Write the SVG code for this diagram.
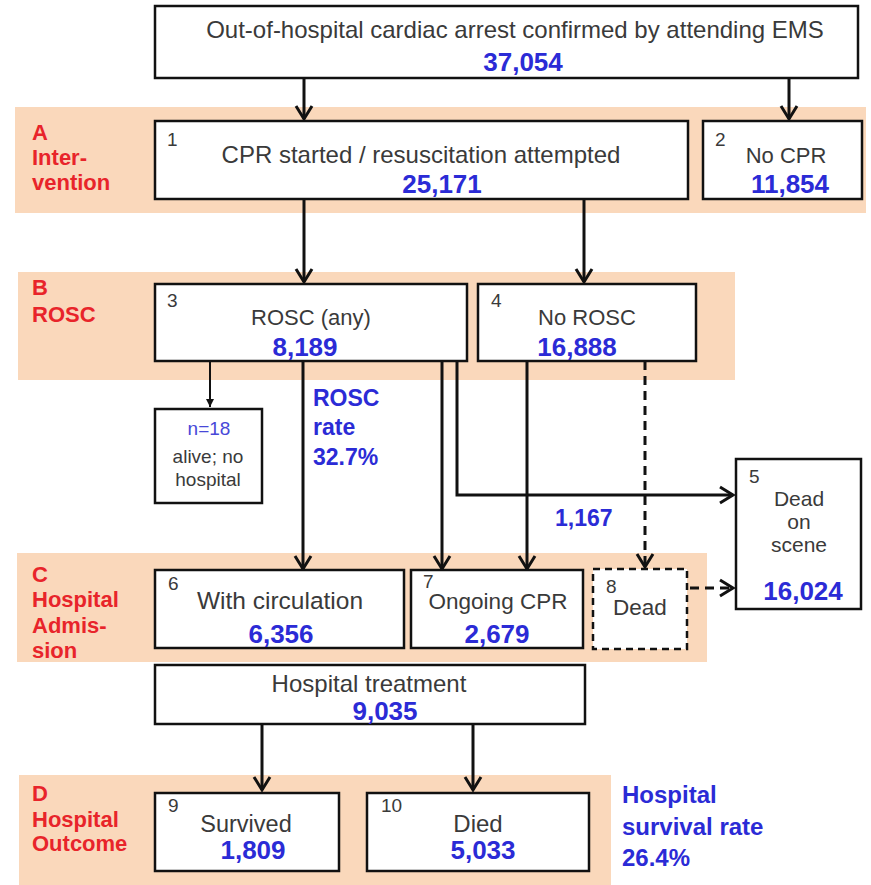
<svg xmlns="http://www.w3.org/2000/svg" width="871" height="885" viewBox="0 0 871 885">
<defs>
<style>
.band{fill:#fad8bb;}
.box{fill:#fff;stroke:#111;stroke-width:2.5;}
.dbox{fill:#fff;stroke:#111;stroke-width:2.5;stroke-dasharray:7 5;}
.t{font-family:"Liberation Sans",Arial,sans-serif;font-size:23px;fill:#3a3a3a;text-anchor:middle;}
.n{font-family:"Liberation Sans",Arial,sans-serif;font-size:19px;fill:#3a3a3a;}
.num{font-family:"Liberation Sans",Arial,sans-serif;font-size:26px;font-weight:bold;fill:#2b2bd6;text-anchor:middle;}
.lab{font-family:"Liberation Sans",Arial,sans-serif;font-size:22px;font-weight:bold;fill:#e8242a;}
.blue{font-family:"Liberation Sans",Arial,sans-serif;font-size:23px;font-weight:bold;fill:#2b2bd6;}
.sm{font-family:"Liberation Sans",Arial,sans-serif;font-size:19px;fill:#3a3a3a;text-anchor:middle;}
.ln{fill:none;stroke:#111;stroke-width:3;}
.dl{fill:none;stroke:#111;stroke-width:3;stroke-dasharray:9 6;}
</style>
<marker id="ah" viewBox="0 0 20 20" markerWidth="20" markerHeight="20" refX="17" refY="10" orient="auto" markerUnits="userSpaceOnUse">
<path d="M4,2 L17,10 L4,18" fill="none" stroke="#111" stroke-width="3"/>
</marker>
<marker id="sm" viewBox="0 0 10 10" markerWidth="10" markerHeight="10" refX="9" refY="5" orient="auto" markerUnits="userSpaceOnUse">
<path d="M1,1 L9,5 L1,9 Z" fill="#111"/>
</marker>
</defs>
<rect width="871" height="885" fill="#fff"/>
<g id="bands">
<rect class="band" x="15" y="107" width="851" height="106"/>
<rect class="band" x="18" y="272" width="717" height="108"/>
<rect class="band" x="17" y="553" width="690" height="109"/>
<rect class="band" x="19" y="775" width="592" height="110"/>
</g>
<g id="band-labels">
<text class="lab" x="32" y="140">A</text>
<text class="lab" x="32" y="165">Inter-</text>
<text class="lab" x="32" y="190">vention</text>
<text class="lab" x="32" y="295">B</text>
<text class="lab" x="32" y="322">ROSC</text>
<text class="lab" x="32" y="582">C</text>
<text class="lab" x="32" y="607">Hospital</text>
<text class="lab" x="32" y="633">Admis-</text>
<text class="lab" x="32" y="658">sion</text>
<text class="lab" x="32" y="801">D</text>
<text class="lab" x="32" y="827">Hospital</text>
<text class="lab" x="32" y="851">Outcome</text>
</g>
<g id="connectors">
<line class="ln" x1="304" y1="78" x2="304" y2="119" marker-end="url(#ah)"/>
<line class="ln" x1="789" y1="78" x2="789" y2="119" marker-end="url(#ah)"/>
<line class="ln" x1="304" y1="199" x2="304" y2="282" marker-end="url(#ah)"/>
<line class="ln" x1="584" y1="199" x2="584" y2="282" marker-end="url(#ah)"/>
<line x1="210" y1="361" x2="210" y2="407" stroke="#111" stroke-width="2" marker-end="url(#sm)"/>
<line class="ln" x1="303" y1="361" x2="303" y2="569" marker-end="url(#ah)"/>
<line class="ln" x1="442" y1="361" x2="442" y2="569" marker-end="url(#ah)"/>
<polyline class="ln" points="457,361 457,495 733,495" marker-end="url(#ah)"/>
<line class="ln" x1="527" y1="361" x2="527" y2="569" marker-end="url(#ah)"/>
<line class="dl" x1="645" y1="361" x2="645" y2="567" marker-end="url(#ah)"/>
<line class="dl" x1="690" y1="588" x2="733" y2="588" marker-end="url(#ah)"/>
<line class="ln" x1="262" y1="724" x2="262" y2="790" marker-end="url(#ah)"/>
<line class="ln" x1="473" y1="724" x2="473" y2="790" marker-end="url(#ah)"/>
</g>
<g id="n0">
<rect class="box" x="155" y="6" width="703" height="72"/>
<text class="t" x="515" y="38" style="font-size:24px">Out-of-hospital cardiac arrest confirmed by attending EMS</text>
<text class="num" x="523" y="71">37,054</text>
</g>
<g id="n1">
<rect class="box" x="155" y="121" width="533" height="78"/>
<text class="n" x="167" y="146">1</text>
<text class="t" x="421" y="163" style="font-size:24px">CPR started / resuscitation attempted</text>
<text class="num" x="442" y="193">25,171</text>
</g>
<g id="n2">
<rect class="box" x="703" y="121" width="159" height="78"/>
<text class="n" x="715" y="146">2</text>
<text class="t" x="786" y="163" style="font-size:22px">No CPR</text>
<text class="num" x="790" y="193">11,854</text>
</g>
<g id="n3">
<rect class="box" x="155" y="284" width="312" height="77"/>
<text class="n" x="167" y="307">3</text>
<text class="t" x="311" y="325" style="font-size:22px">ROSC (any)</text>
<text class="num" x="305" y="356">8,189</text>
</g>
<g id="n4">
<rect class="box" x="478" y="284" width="218" height="77"/>
<text class="n" x="491" y="307">4</text>
<text class="t" x="587" y="325" style="font-size:22px">No ROSC</text>
<text class="num" x="577" y="356">16,888</text>
</g>
<g id="n-alive">
<rect class="box" x="155" y="409" width="107" height="94"/>
<text class="sm" x="209" y="435" style="fill:#4848d8">n=18</text>
<text class="sm" x="208" y="463">alive; no</text>
<text class="sm" x="208" y="486">hospital</text>
</g>
<g id="rosc-rate">
<text class="blue" x="313" y="406">ROSC</text>
<text class="blue" x="313" y="435">rate</text>
<text class="blue" x="313" y="465">32.7%</text>
</g>
<text class="blue" x="555" y="526">1,167</text>
<g id="n5">
<rect class="box" x="736" y="459" width="125" height="150"/>
<text class="n" x="749" y="483">5</text>
<text class="t" x="799" y="506" style="font-size:21px">Dead</text>
<text class="t" x="799" y="529" style="font-size:21px">on</text>
<text class="t" x="799" y="552" style="font-size:21px">scene</text>
<text class="num" x="803" y="600">16,024</text>
</g>
<g id="n6">
<rect class="box" x="155" y="570" width="249" height="78"/>
<text class="n" x="168" y="590">6</text>
<text class="t" x="280" y="609" style="font-size:24.5px">With circulation</text>
<text class="num" x="281" y="643">6,356</text>
</g>
<g id="n7">
<rect class="box" x="411" y="570" width="172" height="78"/>
<text class="n" x="423" y="588">7</text>
<text class="t" x="498" y="609" style="font-size:22.5px">Ongoing CPR</text>
<text class="num" x="497" y="643">2,679</text>
</g>
<g id="n8">
<rect class="dbox" x="593" y="569" width="94" height="80"/>
<text class="n" x="606" y="593">8</text>
<text class="t" x="640" y="615" style="font-size:22.5px">Dead</text>
</g>
<g id="n-treat">
<rect class="box" x="155" y="665" width="430" height="59"/>
<text class="t" x="369" y="692" style="font-size:24px">Hospital treatment</text>
<text class="num" x="385" y="720">9,035</text>
</g>
<g id="n9">
<rect class="box" x="155" y="793" width="184" height="78"/>
<text class="n" x="168" y="812">9</text>
<text class="t" x="246" y="832" style="font-size:23.5px">Survived</text>
<text class="num" x="253" y="859">1,809</text>
</g>
<g id="n10">
<rect class="box" x="367" y="793" width="222" height="78"/>
<text class="n" x="381" y="812">10</text>
<text class="t" x="478" y="832" style="font-size:24px">Died</text>
<text class="num" x="483" y="859">5,033</text>
</g>
<g id="survival-rate">
<text class="blue" x="622" y="803" style="font-size:24px">Hospital</text>
<text class="blue" x="622" y="835" style="font-size:24px">survival rate</text>
<text class="blue" x="622" y="866" style="font-size:24px">26.4%</text>
</g>
</svg>
